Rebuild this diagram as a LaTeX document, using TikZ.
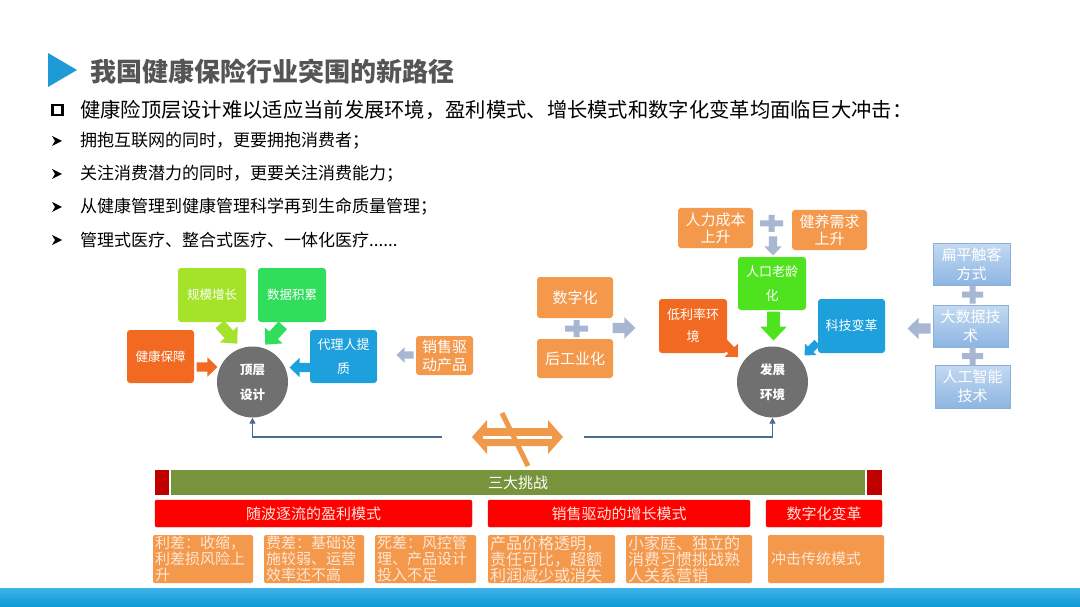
\documentclass[tikz,border=0pt]{standalone}
\usepackage{fontspec}
\setmainfont{Noto Sans CJK SC}
\usetikzlibrary{arrows.meta,calc}
\definecolor{corange}{HTML}{F26A21}
\definecolor{clime}{HTML}{A4E32A}
\definecolor{cgreen}{HTML}{30DE5C}
\definecolor{cgreentwo}{HTML}{4EE21F}
\definecolor{cblue}{HTML}{1EA0DC}
\definecolor{clorange}{HTML}{F4984C}
\definecolor{cgraycirc}{HTML}{707070}
\definecolor{plusc}{HTML}{A8B7D1}
\definecolor{lineblue}{HTML}{4A6A8F}
\definecolor{barg}{HTML}{77933C}
\definecolor{dred}{HTML}{C00000}
\definecolor{bred}{HTML}{FF0000}
\definecolor{ltxt}{HTML}{FCE7D6}
\definecolor{titlegray}{HTML}{555555}
\definecolor{triblue}{HTML}{1E9BD7}
\definecolor{xorange}{HTML}{F0994A}
\definecolor{lbtop}{HTML}{C3DAF1}
\definecolor{lbbot}{HTML}{8DB5E2}
\definecolor{lbdraw}{HTML}{8AAFDA}
\definecolor{bandtop}{HTML}{3FB4E8}
\definecolor{bandbot}{HTML}{0C97D4}
\newcommand\blockarr[5]{%
  \fill[#5, shift={(#1,#2)}, rotate=#3, scale=#4] (-0.5,-0.22) -- (0.02,-0.22) -- (0.02,-0.46) -- (0.5,0) -- (0.02,0.46) -- (0.02,0.22) -- (-0.5,0.22) -- cycle;}
\newcommand\plussign[4]{%
  \fill[plusc, shift={(#1,#2)}] (-#3/2,-3) rectangle (#3/2,3) (-3,-#4/2) rectangle (3,#4/2);}
\newcommand\fs[2]{\fontsize{#1}{#2}\selectfont}
\tikzset{
  box/.style={rounded corners=3pt, inner sep=1pt, align=center, text=white},
  lbbox/.style={box, rounded corners=0pt, top color=lbtop, bottom color=lbbot, draw=lbdraw, text=white},
  circ/.style={circle, fill=cgraycirc, text=white, align=center, inner sep=0pt, minimum size=71pt, font=\fs{12.5}{25}\bfseries},
  obox/.style={rounded corners=2pt, fill=clorange, inner sep=0pt, text=ltxt, align=left, anchor=center, font=\fs{15}{16}},
  rbar/.style={rounded corners=2pt, fill=bred, draw=red!85!black, inner sep=0pt, minimum height=27pt, text=ltxt, font=\fs{15}{16}},
  conn/.style={draw=lineblue, line width=1.3pt, -{Triangle[length=6pt,width=6pt]}},
  bullettext/.style={anchor=west, inner sep=0pt, font=\fs{17}{20}},
}
\begin{document}
\begin{tikzpicture}[x=1pt, y=-1pt]
\useasboundingbox (0,0) rectangle (1080,607);
\fill[white] (0,0) rectangle (1080,607);
% title
\fill[triblue] (48,53) -- (77,70) -- (48,87) -- cycle;
\node[anchor=west, inner sep=0pt, text=titlegray, font=\fs{26}{30}\bfseries] (title) at (90,71) {我国健康保险行业突围的新路径};
% first line
\draw[line width=2.2pt] (52.5,105) rectangle (62.5,115);
\node[anchor=west, inner sep=0pt, font=\fs{20.3}{24}] (l1) at (80,110) {健康险顶层设计难以适应当前发展环境，盈利模式、增长模式和数字化变革均面临巨大冲击：};
% bullets
\foreach \yy in {141,174,207,240}{
  \fill (52,\yy-5) -- (62,\yy) -- (52,\yy+5) -- (55,\yy) -- cycle;
}
\node[bullettext] (b1) at (80,141) {拥抱互联网的同时，更要拥抱消费者；};
\node[bullettext] (b2) at (80,174) {关注消费潜力的同时，更要关注消费能力；};
\node[bullettext] (b3) at (80,207) {从健康管理到健康管理科学再到生命质量管理；};
\node[bullettext] (b4) at (80,240) {管理式医疗、整合式医疗、一体化医疗......};
% left cluster
\node[box, fill=corange, minimum width=67pt, minimum height=53pt, font=\fs{12.5}{16}] (jkbz) at (160.5,356.5) {健康保障};
\node[box, fill=clime, minimum width=68pt, minimum height=54pt, font=\fs{12.5}{16}] (gmzz) at (212,295) {规模增长};
\node[box, fill=cgreen, minimum width=68pt, minimum height=54pt, font=\fs{12.5}{16}] (sjjl) at (292,295) {数据积累};
\node[box, fill=cblue, minimum width=67pt, minimum height=53pt, font=\fs{13}{24}] (dlr) at (343.5,356.5) {代理人提\\质};
\node[box, fill=clorange, minimum width=57pt, minimum height=39pt, font=\fs{15}{18}] (xsqd) at (444.5,355.5) {销售驱\\动产品};
\node[circ] (top) at (252.5,382) {顶层\\设计};
\blockarr{207}{367}{0}{21}{corange}
\blockarr{228.5}{334}{-48}{26}{clime}
\blockarr{274}{335}{-132}{26}{cgreen}
\blockarr{300}{367.5}{180}{21}{cblue}
\blockarr{405}{355}{180}{17}{plusc}
% middle cluster
\node[box, fill=clorange, minimum width=76pt, minimum height=41pt, font=\fs{15}{18}] (szh) at (575,297.5) {数字化};
\plussign{576.5}{328.5}{23}{17}
\node[box, fill=clorange, minimum width=76pt, minimum height=39pt, font=\fs{15}{18}] (hgyh) at (575,358.5) {后工业化};
\blockarr{624}{328}{0}{23}{plusc}
% right cluster
\node[box, fill=corange, minimum width=68pt, minimum height=54pt, font=\fs{13}{22}] (dll) at (693,326) {低利率环\\境};
\node[box, fill=cgreentwo, minimum width=68pt, minimum height=53pt, font=\fs{13}{24}] (rklh) at (772,283.5) {人口老龄\\化};
\node[box, fill=clorange, minimum width=75pt, minimum height=40pt, font=\fs{15}{17}] (rlcb) at (715.5,228) {人力成本\\上升};
\node[box, fill=clorange, minimum width=75pt, minimum height=40pt, font=\fs{15}{17}] (jyxq) at (829.5,230) {健养需求\\上升};
\plussign{771.5}{223.5}{23}{17}
\blockarr{773}{246}{-90}{19}{plusc}
\blockarr{773.5}{326}{-90}{29}{cgreentwo}
\node[box, fill=cblue, minimum width=67pt, minimum height=54pt, font=\fs{13}{16}] (kjbg) at (851.5,326) {科技变革};
\blockarr{731}{350}{-45}{20}{corange}
\blockarr{811}{349}{-135}{18}{cblue}
\node[circ] (env) at (772.5,382) {发展\\环境};
% far right
\node[lbbox, minimum width=77pt, minimum height=42pt, font=\fs{15}{19}] (bpck) at (971.5,264) {扁平触客\\方式};
\plussign{972.5}{294.5}{21}{18}
\node[lbbox, minimum width=75pt, minimum height=42pt, font=\fs{15}{19}] (dsj) at (970.5,326) {大数据技\\术};
\plussign{972.5}{356}{21}{18}
\node[lbbox, minimum width=75pt, minimum height=43pt, font=\fs{15}{19}] (rgzn) at (972.5,386.5) {人工智能\\技术};
\blockarr{919}{328.5}{180}{23}{plusc}
% connectors
\coordinate (lA) at (442,437);
\coordinate (rA) at (584,437);
\draw[conn] (lA) -| (top.south);
\draw[conn] (rA) -| (env.south);
% crossing symbol
\fill[xorange] (472,437) -- (487,420) -- (487,428) -- (548,428) -- (548,420) -- (563,437) -- (548,454) -- (548,446) -- (487,446) -- (487,454) -- cycle;
\fill[white] (483,435.5) rectangle (552,438.5);
\draw[xorange, line width=5pt] (502,413) -- (528,466);
% bottom bars
\node[fill=dred, minimum width=14pt, minimum height=25pt, inner sep=0pt] (dl) at (162,482.5) {};
\node[fill=barg, minimum width=694pt, minimum height=25pt, inner sep=0pt, text=white, font=\fs{15}{16}] (sdtz) at (518,482.5) {三大挑战};
\node[fill=dred, minimum width=15pt, minimum height=25pt, inner sep=0pt] (dr) at (874.5,482.5) {};
\node[rbar, minimum width=317pt] (r1) at (313.5,513.5) {随波逐流的盈利模式};
\node[rbar, minimum width=262pt] (r2) at (619,513.5) {销售驱动的增长模式};
\node[rbar, minimum width=116pt] (r3) at (824,513.5) {数字化变革};
\node[obox, minimum width=100pt, minimum height=48pt, text width=96pt] (o1) at (203,559) {利差：收缩，\\利差损风险上\\升};
\node[obox, minimum width=100pt, minimum height=48pt, text width=96pt] (o2) at (314,559) {费差：基础设\\施较弱、运营\\效率还不高};
\node[obox, minimum width=101pt, minimum height=48pt, text width=97pt] (o3) at (425.5,559) {死差：风控管\\理、产品设计\\投入不足};
\node[obox, minimum width=127pt, minimum height=48pt, text width=123pt, font=\fs{16}{16}] (o4) at (551.5,559) {产品价格透明，\\责任可比，超额\\利润减少或消失};
\node[obox, minimum width=126pt, minimum height=48pt, text width=122pt, font=\fs{16}{16}] (o5) at (689,559) {小家庭、独立的\\消费习惯挑战熟\\人关系营销};
\node[obox, minimum width=116pt, minimum height=48pt, text width=110pt, font=\fs{15}{16}] (o6) at (826,559) {冲击传统模式};
% bottom band
\shade[top color=bandtop, bottom color=bandbot] (0,588) rectangle (1080,607);
\end{tikzpicture}
\end{document}
